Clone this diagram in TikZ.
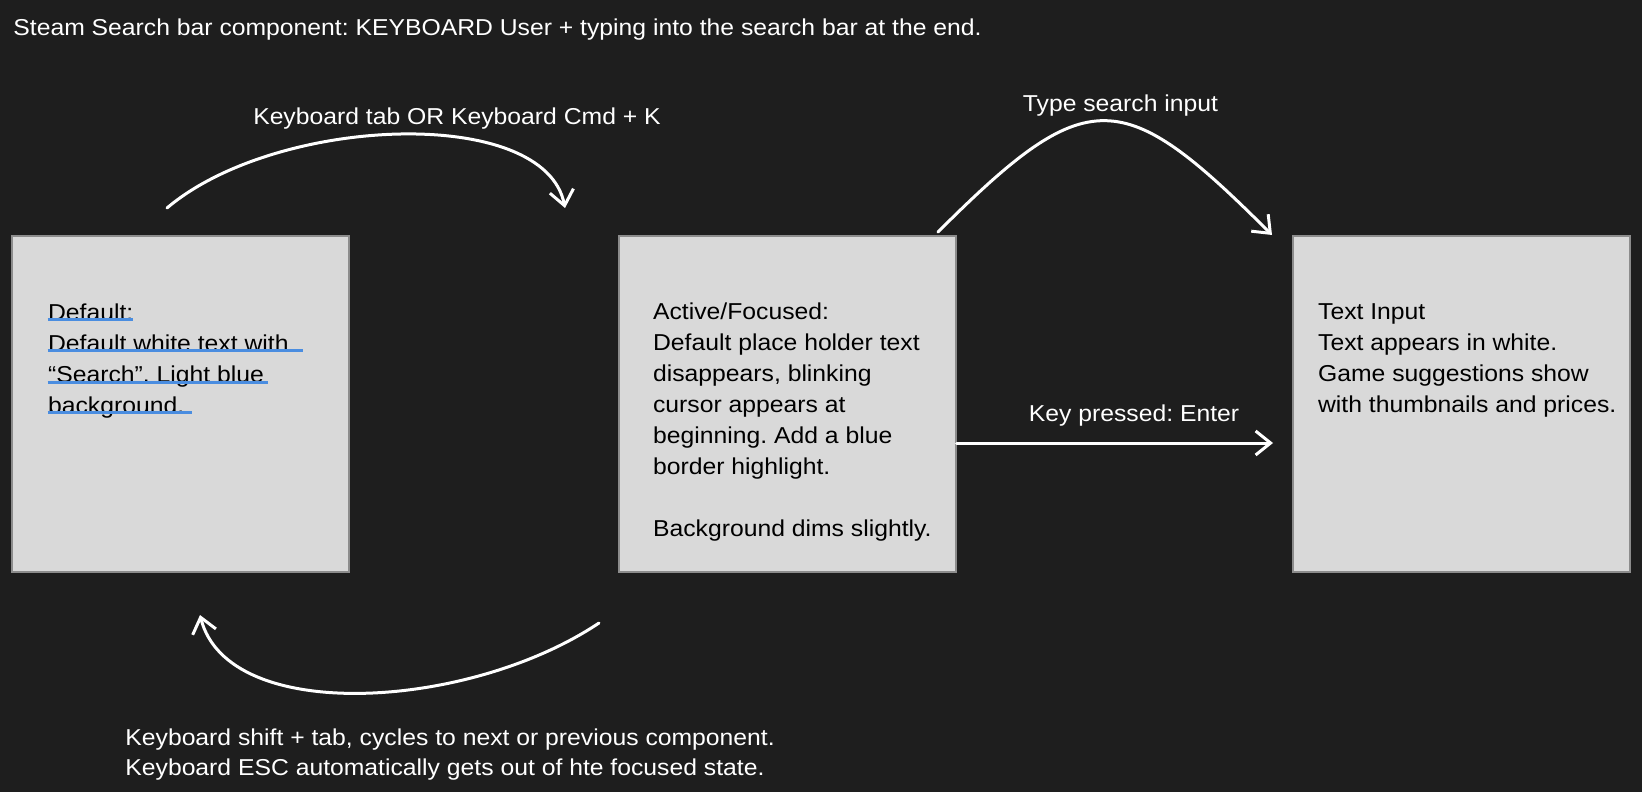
\documentclass[tikz,border=0pt]{standalone}
\usepackage{fontspec}
\setmainfont[FakeStretch=1.075]{Liberation Sans}
\frenchspacing
\usetikzlibrary{arrows.meta,positioning}
\definecolor{canvas}{HTML}{1E1E1E}
\definecolor{cardgray}{HTML}{D9D9D9}
\definecolor{cardedge}{HTML}{8C8C8C}
\definecolor{ulblue}{HTML}{4A8DE0}
\tikzset{
    card/.style={draw=cardedge,fill=cardgray,line width=.6pt,minimum width=168.5pt,minimum height=168pt,inner sep=0pt},
    cardtext/.style={anchor=base west,align=left,inner sep=0pt,text=black,font=\fontsize{11.5}{15.5}\selectfont},
    flowtext/.style={inner sep=0pt,text=white,font=\fontsize{11.5}{15}\selectfont},
    flow/.style={draw=white,line width=1.5pt,line cap=round,-{Straight Barb[length=7.5pt,width=12pt]}},
}
\begin{document}
\begin{tikzpicture}[x=.5pt,y=-.5pt]
    % canvas
    \useasboundingbox (0,0) rectangle (1642,792);
    \fill[canvas] (0,0) rectangle (1642,792);
    \node[flowtext,anchor=base west] (title) at (13,35.7) {Steam Search bar component: KEYBOARD User + typing into the search bar at the end.};
    % states
    \node[card] (default) at (180.5,404) {};
    \node[card] (focused) at (787.5,404) {};
    \node[card] (typed) at (1461.5,404) {};
    % multi-line text sits on its last baseline
    \node[cardtext] (defaulttext) at (47.7,413) {Default:\\Default white text with\\“Search”. Light blue\\background.};
    \node[cardtext] (focusedtext) at (652.7,536) {Active/Focused:\\Default place holder text\\disappears, blinking\\cursor appears at\\beginning. Add a blue\\border highlight.\\[15.5pt]Background dims slightly.};
    \node[cardtext] (typedtext) at (1317.7,412) {Text Input\\Text appears in white.\\Game suggestions show\\with thumbnails and prices.};
    % underlines
    \foreach \len/\yy in {133/319.3,302.7/350.7,268/382,191.7/412.7}
        \draw[ulblue,line width=1.5pt] (47.7,\yy) -- (\len,\yy);
    % connectors
    \coordinate (tabfrom) at (167,208);
    \coordinate (tabto) at (565,208);
    \coordinate (typefrom) at (938,232);
    \coordinate (typeto) at (1272,235);
    \coordinate (escfrom) at (599,623);
    \coordinate (escto) at (200,615);
    \coordinate (enterto) at (1273,443);
    \draw[flow] (tabfrom) .. controls +(110,-93) and +(-20,-103) .. (tabto);
    \draw[flow] (typefrom) .. controls +(150,-150) and +(-150,-150) .. (typeto);
    \draw[flow] (escfrom) .. controls +(-130,87) and +(28,110) .. (escto);
    \draw[flow] (focused.east |- enterto) -- (enterto);
    % labels
    \node[flowtext,anchor=base] (tablabel) at (457,125) {Keyboard tab OR Keyboard Cmd + K};
    \node[flowtext,anchor=base] (typelabel) at (1120.5,112) {Type search input};
    \node[flowtext,anchor=base] (enterlabel) at (1134,421) {Key pressed: Enter};
    \node[flowtext,anchor=base west,align=left] (esclabel) at (125,775) {Keyboard shift + tab, cycles to next or previous component.\\Keyboard ESC automatically gets out of hte focused state.};
\end{tikzpicture}
\end{document}
